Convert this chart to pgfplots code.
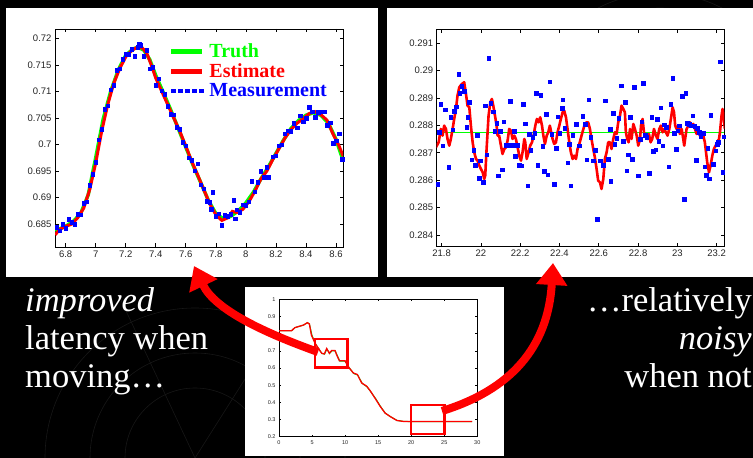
\documentclass[border=0pt]{standalone}
\usepackage{fontspec}
\setmainfont{Liberation Serif}
\setsansfont{Liberation Sans}
\usepackage{pgfplots}
\pgfplotsset{compat=1.18}
\usetikzlibrary{arrows.meta}
\definecolor{mgreen}{RGB}{0,255,0}
\definecolor{mred}{RGB}{255,0,0}
\definecolor{mblue}{RGB}{0,0,255}
\pgfplotsset{matlab/.style={scale only axis, anchor=south west,
  axis line style={black, line width=0.7pt},
  tick style={black, line width=0.6pt}, major tick length=3.5pt, tick align=inside,
  scaled ticks=false, axis background/.style={fill=white},
  ticklabel style={font=\sffamily\fontsize{9.5}{10}\selectfont, text=black!85}}}
\begin{document}
\begin{tikzpicture}
\fill[black] (0pt,0pt) rectangle (753pt,458pt);
% faint background drawing
\begin{scope}[gray!18!black, line width=0.6pt]
\draw (195pt,0pt) circle (70pt);
\draw (195pt,0pt) circle (105pt);
\draw (195pt,0pt) circle (150pt);
\draw (195pt,0pt) -- (120pt,160pt);
\draw (195pt,0pt) -- (290pt,150pt);
\draw (660pt,330pt) circle (120pt);
\draw (660pt,330pt) circle (135pt);
\end{scope}
% white panels
\fill[white] (6pt,181pt) rectangle (378pt,450pt);
\fill[white] (387pt,181pt) rectangle (753pt,450pt);
\fill[white] (245pt,2pt) rectangle (504pt,171pt);

% ---------- panel 1 ----------
\begin{axis}[matlab, at={(55pt,211pt)}, width=288pt, height=218pt,
  xmin=6.729, xmax=8.647, ymin=0.6807, ymax=0.72175,
  xtick={6.8,7,7.2,7.4,7.6,7.8,8,8.2,8.4,8.6},
  xticklabels={6.8,7,7.2,7.4,7.6,7.8,8,8.2,8.4,8.6},
  ytick={0.685,0.69,0.695,0.7,0.705,0.71,0.715,0.72},
  yticklabels={0.685,0.69,0.695,0.7,0.705,0.71,0.715,0.72},
  legend style={at={(0.395,0.94)}, anchor=north west, draw=none, fill=none,
    font=\rmfamily\bfseries\fontsize{20}{20}\selectfont, row sep=1.5pt, column sep=3pt,
    inner sep=0pt, nodes={inner sep=1.5pt}},
  legend cell align=left]
\addplot[mgreen, line width=3.5pt, legend image code/.code={\draw[mgreen, line width=5pt] (0pt,0pt) -- (31pt,0pt);}] coordinates {
(6.73,0.6838) (6.75,0.6840) (6.80,0.6846) (6.85,0.6855) (6.90,0.6870) (6.95,0.6905)
(7.00,0.6975) (7.05,0.7048) (7.10,0.7100) (7.15,0.7140) (7.20,0.7168) (7.25,0.7180)
(7.28,0.7183) (7.32,0.7178) (7.36,0.7160) (7.40,0.7130) (7.45,0.7098) (7.50,0.7065)
(7.55,0.7030) (7.60,0.6995) (7.65,0.6960) (7.70,0.6928) (7.75,0.6895) (7.80,0.6870)
(7.85,0.6860) (7.90,0.6865) (7.95,0.6875) (8.00,0.6890) (8.05,0.6910) (8.10,0.6935)
(8.15,0.6958) (8.20,0.6983) (8.25,0.7008) (8.30,0.7030) (8.35,0.7045) (8.40,0.7055)
(8.45,0.7060) (8.50,0.7055) (8.55,0.7040) (8.60,0.7010) (8.65,0.6968)};
\addlegendentry{\textcolor{mgreen}{Truth}}
\addplot[mred, line width=3pt, legend image code/.code={\draw[mred, line width=5pt] (0pt,0pt) -- (31pt,0pt);}] coordinates {
(6.73,0.6830) (6.76,0.6840) (6.80,0.6846) (6.84,0.6850) (6.88,0.6862) (6.92,0.6880)
(6.96,0.6915) (7.00,0.6965) (7.04,0.7025) (7.08,0.7075) (7.12,0.7115) (7.16,0.7143)
(7.20,0.7165) (7.24,0.7177) (7.28,0.7184) (7.31,0.7182) (7.34,0.7172) (7.37,0.7150)
(7.40,0.7125) (7.44,0.7100) (7.48,0.7075) (7.52,0.7050) (7.56,0.7025) (7.60,0.6997)
(7.64,0.6968) (7.68,0.6942) (7.72,0.6915) (7.76,0.6888) (7.80,0.6868) (7.84,0.6857)
(7.88,0.6862) (7.91,0.6874) (7.94,0.6872) (7.98,0.6878) (8.02,0.6892) (8.06,0.6912)
(8.10,0.6935) (8.14,0.6950) (8.18,0.6972) (8.22,0.6992) (8.26,0.7012) (8.30,0.7028)
(8.34,0.7040) (8.38,0.7048) (8.42,0.7058) (8.46,0.7062) (8.50,0.7056) (8.54,0.7046)
(8.58,0.7020) (8.62,0.6998) (8.648,0.6978)};
\addlegendentry{\textcolor{mred}{Estimate}}
\addplot[only marks, mark=square*, mark size=1.8pt, mblue, legend image code/.code={\foreach \k in {0,1,2,3,4} {\fill[mblue] (\k*7pt,-1.8pt) rectangle ++(3.6pt,3.6pt);}}] coordinates {
(6.74,0.6844) (6.76,0.6838) (6.78,0.6850) (6.80,0.6842) (6.82,0.6859) (6.84,0.6854)
(6.86,0.6850) (6.88,0.6869) (6.90,0.6868) (6.92,0.6889) (6.94,0.6892) (6.96,0.6923)
(6.98,0.6944) (7.00,0.6967) (7.02,0.7009) (7.04,0.7029) (7.06,0.7067) (7.08,0.7073)
(7.10,0.7103) (7.12,0.7112) (7.14,0.7140) (7.16,0.7143) (7.18,0.7161) (7.20,0.7170)
(7.22,0.7170) (7.24,0.7180) (7.26,0.7166) (7.28,0.7183) (7.29,0.7190) (7.30,0.7187)
(7.32,0.7166) (7.34,0.7178) (7.36,0.7143) (7.38,0.7146) (7.40,0.7112) (7.42,0.7124)
(7.44,0.7101) (7.46,0.7095) (7.48,0.7072) (7.50,0.7057) (7.52,0.7056) (7.54,0.7033)
(7.56,0.7029) (7.58,0.7004) (7.60,0.6998) (7.62,0.6975) (7.64,0.6971) (7.66,0.6951)
(7.68,0.6964) (7.70,0.6924) (7.72,0.6917) (7.74,0.6893) (7.76,0.6891) (7.77,0.6878)
(7.78,0.6910) (7.80,0.6865) (7.82,0.6870) (7.84,0.6848) (7.86,0.6867) (7.88,0.6865)
(7.90,0.6869) (7.92,0.6895) (7.93,0.6860) (7.94,0.6877) (7.96,0.6873) (7.98,0.6887)
(8.00,0.6886) (8.02,0.6892) (8.04,0.6931) (8.06,0.6911) (8.08,0.6929) (8.10,0.6950)
(8.12,0.6938) (8.14,0.6957) (8.15,0.6938) (8.18,0.6977) (8.20,0.6979) (8.22,0.6998)
(8.24,0.7000) (8.26,0.7020) (8.28,0.7026) (8.30,0.7025) (8.32,0.7040) (8.34,0.7032)
(8.36,0.7054) (8.38,0.7043) (8.40,0.7050) (8.42,0.7070) (8.44,0.7062) (8.46,0.7051)
(8.48,0.7061) (8.50,0.7062) (8.52,0.7062) (8.54,0.7036) (8.56,0.7041) (8.58,0.7002)
(8.60,0.7007) (8.62,0.7020) (8.64,0.6972) (8.648,0.6965)};
\addlegendentry{\textcolor{mblue}{Measurement}}
\end{axis}

% ---------- panel 2 ----------
\begin{axis}[matlab, at={(436.7pt,211.3pt)}, width=287.6pt, height=217.4pt,
  xmin=21.775, xmax=23.239, ymin=0.28357, ymax=0.29151,
  xtick={21.8,22,22.2,22.4,22.6,22.8,23,23.2},
  xticklabels={21.8,22,22.2,22.4,22.6,22.8,23,23.2},
  ytick={0.284,0.285,0.286,0.287,0.288,0.289,0.29,0.291},
  yticklabels={0.284,0.285,0.286,0.287,0.288,0.289,0.29,0.291}]
\addplot[mgreen, line width=1.5pt] coordinates {(21.775,0.287735) (23.239,0.287735)};
\addplot[mred, line width=2.6pt, line join=round] coordinates {
(21.771,0.287200) (21.785,0.287383) (21.796,0.287870) (21.805,0.287626) (21.813,0.287992)
(21.822,0.287870) (21.830,0.287505) (21.839,0.287261) (21.847,0.287505) (21.856,0.287870)
(21.864,0.288235) (21.873,0.288600) (21.881,0.289087) (21.890,0.289392) (21.903,0.289513)
(21.915,0.289574) (21.924,0.289148) (21.932,0.288722) (21.941,0.288661) (21.949,0.287992)
(21.958,0.287383) (21.966,0.287018) (21.975,0.286774) (21.983,0.286713) (21.992,0.286531)
(22.000,0.286409) (22.009,0.286287) (22.017,0.286044) (22.022,0.286166) (22.029,0.287139)
(22.039,0.288357) (22.048,0.288844) (22.056,0.288965) (22.063,0.288722) (22.073,0.288296)
(22.080,0.287992) (22.085,0.287626) (22.093,0.287626) (22.102,0.287261) (22.110,0.286957)
(22.119,0.287139) (22.127,0.287200) (22.136,0.287444) (22.144,0.287870) (22.153,0.287809)
(22.161,0.287505) (22.170,0.287626) (22.178,0.287505) (22.187,0.287200) (22.195,0.286896)
(22.204,0.286713) (22.212,0.287018) (22.221,0.287505) (22.226,0.287383) (22.233,0.286774)
(22.243,0.287018) (22.251,0.287261) (22.260,0.287383) (22.268,0.287626) (22.277,0.287992)
(22.285,0.288235) (22.294,0.288113) (22.302,0.288296) (22.311,0.287992) (22.318,0.287626)
(22.326,0.287322) (22.335,0.287626) (22.343,0.287748) (22.351,0.287992) (22.358,0.287748)
(22.365,0.287505) (22.373,0.287322) (22.382,0.287383) (22.390,0.287748) (22.399,0.287992)
(22.407,0.288235) (22.416,0.288478) (22.424,0.288539) (22.433,0.288296) (22.441,0.287870)
(22.450,0.287383) (22.458,0.287018) (22.467,0.286774) (22.475,0.286896) (22.484,0.286774)
(22.492,0.287139) (22.501,0.287322) (22.515,0.287700) (22.529,0.288052) (22.538,0.288113)
(22.546,0.288113) (22.555,0.287870) (22.563,0.287505) (22.572,0.287139) (22.580,0.286835)
(22.589,0.286409) (22.597,0.285983) (22.606,0.285922) (22.614,0.285679) (22.623,0.286044)
(22.631,0.286774) (22.640,0.287018) (22.648,0.287383) (22.657,0.287383) (22.665,0.287139)
(22.674,0.287505) (22.682,0.287748) (22.691,0.287687) (22.699,0.288113) (22.708,0.288357)
(22.716,0.288722) (22.725,0.288600) (22.733,0.288478) (22.738,0.287748) (22.745,0.287505)
(22.752,0.287383) (22.759,0.287870) (22.767,0.287505) (22.776,0.288052) (22.784,0.287870)
(22.793,0.287626) (22.801,0.287261) (22.810,0.287505) (22.815,0.287992) (22.823,0.288235)
(22.830,0.287748) (22.838,0.287626) (22.847,0.287505) (22.855,0.287687) (22.864,0.287383)
(22.872,0.287505) (22.881,0.287870) (22.891,0.287626) (22.899,0.287505) (22.908,0.287870)
(22.916,0.287992) (22.925,0.287748) (22.933,0.287870) (22.942,0.287748) (22.950,0.287626)
(22.959,0.287870) (22.967,0.288235) (22.976,0.288661) (22.983,0.288478) (22.989,0.287992)
(22.996,0.287870) (23.005,0.287992) (23.013,0.287687) (23.022,0.287870) (23.030,0.287505)
(23.035,0.287261) (23.042,0.287626) (23.047,0.287870) (23.056,0.287992) (23.064,0.288113)
(23.073,0.287992) (23.081,0.288052) (23.090,0.287870) (23.098,0.287687) (23.107,0.287748)
(23.115,0.287626) (23.123,0.287748) (23.132,0.287626) (23.140,0.287383) (23.146,0.287018)
(23.152,0.286652) (23.161,0.286287) (23.169,0.286531) (23.178,0.286896) (23.186,0.287139)
(23.195,0.287261) (23.203,0.287383) (23.212,0.287505) (23.217,0.287748) (23.225,0.288357)
(23.230,0.288600) (23.237,0.288235) (23.242,0.287870)};
\addplot[only marks, mark=square*, mark size=1.8pt, mblue] coordinates {
(21.780,0.285861) (21.788,0.287748) (21.795,0.288783) (21.805,0.287261) (21.819,0.288576)
(21.836,0.286470) (21.846,0.288296) (21.856,0.287845) (21.864,0.288515) (21.873,0.288685)
(21.886,0.289879) (21.893,0.289185) (21.903,0.289428) (21.914,0.289245) (21.927,0.287931)
(21.932,0.288296) (21.941,0.288844) (21.954,0.286750) (21.963,0.287103) (21.971,0.286555)
(21.980,0.287651) (21.992,0.286068) (21.997,0.286713) (22.012,0.285922) (22.022,0.288722)
(22.029,0.286932) (22.039,0.290463) (22.049,0.288819) (22.063,0.288503) (22.070,0.287785)
(22.080,0.288089) (22.087,0.286166) (22.097,0.287785) (22.107,0.286385) (22.116,0.288138)
(22.127,0.287285) (22.138,0.287285) (22.148,0.288880) (22.158,0.287285) (22.170,0.287785)
(22.175,0.286872) (22.185,0.287285) (22.195,0.286555) (22.207,0.286531) (22.216,0.288783)
(22.224,0.288065) (22.238,0.285800) (22.246,0.287675) (22.253,0.287103) (22.263,0.287578)
(22.273,0.287712) (22.282,0.289185) (22.290,0.286555) (22.304,0.289112) (22.314,0.287237)
(22.323,0.286324) (22.331,0.288418) (22.341,0.286202) (22.351,0.289599) (22.360,0.287675)
(22.374,0.285861) (22.382,0.287176) (22.391,0.288320) (22.402,0.287712) (22.413,0.288625)
(22.416,0.288941) (22.426,0.287894) (22.441,0.286640) (22.450,0.287322) (22.458,0.285800)
(22.467,0.287651) (22.484,0.288052) (22.501,0.287261) (22.518,0.288332) (22.530,0.288052)
(22.538,0.286750) (22.548,0.288941) (22.558,0.287565) (22.572,0.286713) (22.582,0.287103)
(22.592,0.284571) (22.606,0.286713) (22.623,0.286555) (22.633,0.288905) (22.647,0.286774)
(22.657,0.287870) (22.660,0.285958) (22.674,0.288454) (22.682,0.287322) (22.691,0.287529)
(22.701,0.288259) (22.715,0.289452) (22.725,0.287419) (22.733,0.288844) (22.742,0.286348)
(22.750,0.286932) (22.759,0.288296) (22.769,0.286774) (22.781,0.289392) (22.801,0.286166)
(22.810,0.287505) (22.818,0.288138) (22.827,0.289550) (22.835,0.287651) (22.843,0.287565)
(22.857,0.286251) (22.869,0.288296) (22.877,0.287066) (22.889,0.287115) (22.898,0.288235)
(22.905,0.287419) (22.916,0.288649) (22.925,0.287261) (22.933,0.288028) (22.942,0.287931)
(22.956,0.286494) (22.967,0.288783) (22.976,0.289720) (22.984,0.287712) (22.993,0.287139)
(23.001,0.287809) (23.008,0.287992) (23.025,0.289063) (23.035,0.285313) (23.042,0.289172)
(23.051,0.288089) (23.061,0.288052) (23.069,0.287992) (23.079,0.288357) (23.088,0.287967)
(23.095,0.286738) (23.101,0.287894) (23.110,0.287748) (23.118,0.287590) (23.132,0.287712)
(23.139,0.286494) (23.146,0.286190) (23.154,0.287164) (23.161,0.286056) (23.169,0.288381)
(23.183,0.286579) (23.196,0.287078) (23.203,0.287322) (23.208,0.287395) (23.217,0.290329)
(23.230,0.286287) (23.236,0.287590)};
\end{axis}

% ---------- bottom panel ----------
\begin{axis}[matlab, at={(279pt,21.3pt)}, width=198.3pt, height=137.4pt,
  xmin=0, xmax=30, ymin=0.2, ymax=1,
  axis line style={black, line width=0.5pt}, tick style={black, line width=0.4pt},
  major tick length=2pt,
  ticklabel style={font=\sffamily\fontsize{5.5}{6}\selectfont, text=black!85},
  xtick={0,5,10,15,20,25,30}, xticklabels={0,5,10,15,20,25,30},
  ytick={0.2,0.3,0.4,0.5,0.6,0.7,0.8,0.9,1},
  yticklabels={0.2,0.3,0.4,0.5,0.6,0.7,0.8,0.9,1}]
\addplot[mgreen!80!black, line width=1pt] coordinates {
(0,0.817) (1.9,0.817) (2.4,0.835) (3.7,0.850) (4.3,0.864) (4.6,0.856) (5.0,0.790)
(5.5,0.742) (6.0,0.712) (6.5,0.684) (6.9,0.681) (7.25,0.711) (7.65,0.684) (8.0,0.700)
(8.5,0.700) (8.8,0.674) (9.2,0.640) (10.0,0.640) (10.6,0.603) (11.3,0.568) (11.9,0.559)
(12.6,0.510) (13.3,0.491) (13.8,0.466) (14.6,0.423) (15.4,0.374) (16.1,0.336)
(16.9,0.316) (17.9,0.294) (18.9,0.289) (20,0.288) (29.2,0.288)};
\addplot[mred, line width=1.3pt] coordinates {
(0,0.817) (1.9,0.817) (2.4,0.835) (3.7,0.850) (4.3,0.864) (4.6,0.856) (4.9,0.792)
(5.45,0.744) (5.95,0.715) (6.46,0.686) (6.86,0.682) (7.21,0.713) (7.62,0.686) (7.97,0.702)
(8.47,0.702) (8.72,0.677) (9.13,0.642) (9.99,0.642) (10.5,0.606) (11.25,0.571) (11.86,0.562)
(12.5,0.513) (13.27,0.494) (13.77,0.469) (14.5,0.426) (15.3,0.377) (16.04,0.338)
(16.8,0.318) (17.8,0.295) (18.8,0.289) (20,0.288) (29.2,0.288)};
\addplot[mred, line width=2.5pt, line join=miter] coordinates {
(5.45,0.604) (10.33,0.604) (10.33,0.769) (5.45,0.769) (5.45,0.604) (10.33,0.604)};
\addplot[mred, line width=2.5pt, line join=miter] coordinates {
(19.97,0.2157) (25.0,0.2157) (25.0,0.3846) (19.97,0.3846) (19.97,0.2157) (25.0,0.2157)};
\end{axis}

% ---------- arrows ----------
\draw[mred, line width=8pt, -{Triangle[length=22pt,width=30pt]}]
  (318pt,106pt) .. controls (265pt,125pt) and (215pt,148pt) .. (194pt,192pt);
\draw[mred, line width=8pt, -{Triangle[length=22pt,width=30pt]}]
  (442pt,47pt) .. controls (510pt,68pt) and (548pt,110pt) .. (553pt,195pt);

% ---------- text ----------
\begin{scope}[every node/.style={text=white, inner sep=0pt, font=\fontsize{34.5}{38}\selectfont}]
\node[anchor=base west] at (25pt,146.3pt) {\textit{improved}};
\node[anchor=base west] at (25pt,108pt) {latency when};
\node[anchor=base west] at (25pt,70pt) {moving…};
\node[anchor=base east] at (752pt,146.3pt) {…relatively};
\node[anchor=base east] at (752pt,108pt) {\textit{noisy}};
\node[anchor=base east] at (752pt,70pt) {when not};
\end{scope}
\pgfresetboundingbox
\path (0pt,0pt) rectangle (753pt,458pt);
\end{tikzpicture}
\end{document}
